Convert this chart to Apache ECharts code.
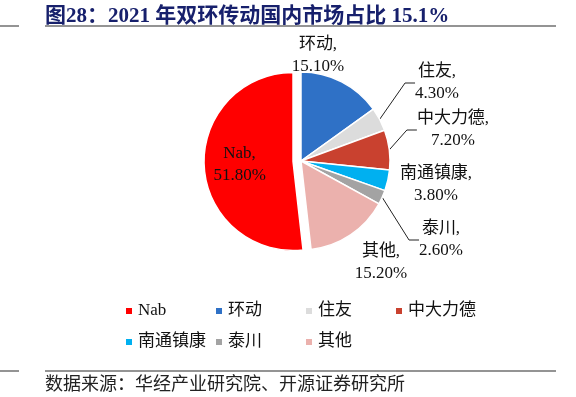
<!DOCTYPE html>
<html>
<head>
<meta charset="utf-8">
<script src="https://cdn.jsdelivr.net/npm/echarts@6/dist/echarts.min.js"></script>
<style>
  html, body {margin: 0; padding: 0; background: #fff;}
  #chart {width: 576px; height: 397px;}
</style>
</head>
<body>
<div id="chart"></div>
<script>
const categories = ['Nab', '环动', '住友', '中大力德', '南通镇康', '泰川', '其他'];
const shares = [51.8, 15.1, 4.3, 7.2, 3.8, 2.6, 15.2];
const titleText = '图28：2021 年双环传动国内市场占比 15.1%';
const sourceText = '数据来源：华经产业研究院、开源证券研究所';

const colors = ['#FF0000', '#2F71C6', '#DCDCDC', '#C9412F', '#00B0F0', '#A3A3A3', '#EBB1AD'];
// label centres [x, y] for the outside labels, and whether a leader line is drawn
const labelSpots = [null, [318, 56], [437, 83], [453, 130], [436, 185], [441, 240], [381, 263]];
const withLine = [false, false, true, true, false, true, false];
const serif = '"Liberation Serif", "Noto Sans CJK SC", serif';

const chart = echarts.init(document.getElementById('chart'));

// legend is laid out as 4 columns of 2 rows
const legendColumns = [0, 1, 2, 3].map(c => categories.filter((_, i) => i % 4 === c));

chart.setOption({
  animation: false,
  color: colors,
  title: {
    text: titleText,
    left: 40,
    top: 1,
    textStyle: {fontFamily: serif, fontSize: 21, fontWeight: 'bold', color: '#17206C'}
  },
  legend: legendColumns.map((data, c) => ({
    data,
    orient: 'vertical',
    left: 119 + c * 90,
    top: 297,
    icon: 'rect',
    itemWidth: 8,
    itemHeight: 8,
    itemGap: 13,
    selectedMode: false,
    textStyle: {fontFamily: serif, fontSize: 17, lineHeight: 18, color: '#111'}
  })),
  graphic: [
    {type: 'line', shape: {x1: 0, y1: 26, x2: 19, y2: 26}},
    {type: 'line', shape: {x1: 45, y1: 26, x2: 556, y2: 26}},
    {type: 'line', shape: {x1: 0, y1: 371, x2: 19, y2: 371}},
    {type: 'line', shape: {x1: 45, y1: 371, x2: 556, y2: 371}}
  ].map(obj => ({...obj, style: {stroke: '#707070', lineWidth: 1.5}}))
    .concat([{
      type: 'text',
      left: 45,
      top: 376,
      style: {text: sourceText, font: '18px ' + serif, fill: '#222'}
    }]),
  series: [{
    type: 'pie',
    center: [301, 161],
    radius: 89,
    startAngle: 90 + shares[0] * 3.6,
    clockwise: true,
    selectedMode: 'single',
    selectedOffset: 8,
    itemStyle: {borderColor: '#fff', borderWidth: 1.5},
    label: {
      show: true,
      position: 'outside',
      fontFamily: serif,
      fontSize: 17,
      lineHeight: 22,
      color: '#111',
      align: 'center',
      formatter: p => p.name + ',\n' + p.value.toFixed(2) + '%'
    },
    labelLine: {show: true, length: 12, length2: 10, lineStyle: {color: '#222', width: 1}},
    labelLayout(params) {
      const spot = labelSpots[params.dataIndex];
      if (!spot) return {dx: -6};
      return {x: spot[0], y: spot[1], align: 'center', verticalAlign: 'middle'};
    },
    emphasis: {disabled: true},
    data: categories.map((name, i) => ({
      name,
      value: shares[i],
      selected: i === 0,
      label: i === 0 ? {position: 'inside'} : {},
      labelLine: {show: withLine[i]}
    }))
  }]
});
</script>
</body>
</html>
